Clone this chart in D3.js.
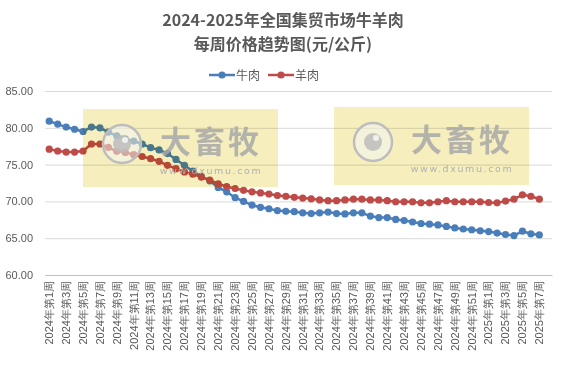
<!DOCTYPE html>
<html><head><meta charset="utf-8">
<script src="https://cdn.jsdelivr.net/npm/d3@7"></script>
<style>
html,body{margin:0;padding:0;background:#fff;}
svg{display:block;font-family:"Noto Sans CJK SC","Noto Sans",sans-serif;}
</style></head>
<body><svg id="c" width="566" height="367"></svg>
<script>
const titleLines = ["2024-2025年全国集贸市场牛羊肉", "每周价格趋势图(元/公斤)"];
const seriesNames = ["牛肉", "羊肉"];
const seriesColors = ["#4a7ebb", "#be4b48"];
const categories = [];
for (let w = 1; w <= 52; w++) categories.push("2024年第" + w + "周");
for (let w = 1; w <= 8; w++) categories.push("2025年第" + w + "周");
const beef = [80.9,80.5,80.1,79.8,79.5,80.1,80.0,79.4,78.9,78.5,78.2,77.8,77.3,77.0,76.5,75.7,74.9,74.1,73.4,72.8,
  71.9,71.3,70.5,70.0,69.5,69.2,69.0,68.75,68.65,68.6,68.45,68.35,68.45,68.55,68.35,68.3,68.45,68.45,68.0,67.8,
  67.8,67.55,67.4,67.2,67.0,66.9,66.8,66.6,66.4,66.25,66.15,66.0,65.9,65.7,65.5,65.35,65.95,65.6,65.45];
const mutton = [77.1,76.85,76.7,76.7,76.85,77.8,77.8,77.35,76.8,76.65,76.35,76.1,75.8,75.45,74.9,74.45,74.0,73.7,73.3,72.9,
  72.4,72.0,71.75,71.5,71.3,71.15,71.0,70.8,70.7,70.55,70.45,70.35,70.2,70.1,70.1,70.2,70.3,70.3,70.2,70.2,
  70.1,69.95,69.95,69.95,69.8,69.8,69.95,70.1,69.95,69.95,69.95,69.95,69.85,69.8,70.05,70.3,70.9,70.7,70.3];
const yTicks = [60, 65, 70, 75, 80, 85];
const watermarkText = "大畜牧";
const watermarkUrl = "www.dxumu.com";

const svg = d3.select("#c");
const textColor = "#595959";

const x = d3.scaleBand().domain(categories).range([45, 552]).paddingInner(0).paddingOuter(0);
const y = d3.scaleLinear().domain([60, 85]).range([275, 91]);
const cx = (i) => x(categories[i]) + x.bandwidth() / 2;

// title
svg.append("g").selectAll("text").data(titleLines).join("text")
  .attr("x", 283).attr("y", (d, i) => 26 + i * 24)
  .attr("text-anchor", "middle").attr("font-size", 16).attr("font-weight", "bold")
  .attr("fill", textColor).text(d => d);

// gridlines + y labels
const yAxis = d3.axisLeft(y).tickValues(yTicks).tickFormat(d3.format(".2f")).tickSize(-(552 - 45)).tickPadding(12);
const gy = svg.append("g").attr("transform", "translate(45,0)").call(yAxis);
gy.select(".domain").remove();
gy.selectAll(".tick line").attr("stroke", "#d9d9d9").attr("stroke-width", 1);
gy.selectAll(".tick text").attr("fill", textColor).attr("font-size", 11)
  .attr("font-family", "Liberation Sans, Arial, sans-serif");

// x axis
const xAxis = d3.axisBottom(x).tickValues(categories.filter((d, i) => i % 2 === 0)).tickSize(0).tickPadding(0);
const gx = svg.append("g").attr("transform", "translate(0,275)").call(xAxis);
gx.select(".domain").attr("stroke", "#bfbfbf");
gx.selectAll(".tick text")
  .attr("transform", "rotate(-90)")
  .attr("x", -6).attr("y", 0).attr("dy", "0.35em")
  .attr("text-anchor", "end")
  .attr("fill", textColor).attr("font-size", 11);

// lines
const series = [beef, mutton];
const line = d3.line().x((d, i) => cx(i)).y(d => y(d));
series.forEach((s, k) => {
  const g = svg.append("g");
  g.append("path").datum(s).attr("d", line).attr("fill", "none")
    .attr("stroke", seriesColors[k]).attr("stroke-width", 2.5).attr("stroke-linejoin", "round");
  g.selectAll("circle").data(s).join("circle")
    .attr("cx", (d, i) => cx(i)).attr("cy", d => y(d)).attr("r", 3.6)
    .attr("fill", seriesColors[k]);
});

// legend
const legend = svg.append("g");
const legX = [209, 268];
seriesNames.forEach((n, k) => {
  const lg = legend.append("g").attr("transform", `translate(${legX[k]},75)`);
  lg.append("line").attr("x1", 0).attr("x2", 26).attr("stroke", seriesColors[k]).attr("stroke-width", 2.5);
  lg.append("circle").attr("cx", 13).attr("r", 3.6).attr("fill", seriesColors[k]);
  lg.append("text").attr("x", 27).attr("y", 0).attr("dy", "0.38em").attr("font-size", 12)
    .attr("fill", textColor).text(n);
});

// watermarks
const wms = [[83, 109], [334, 107]];
wms.forEach(([wx, wy]) => {
  const g = svg.append("g").attr("transform", `translate(${wx},${wy})`);
  g.append("rect").attr("width", 195).attr("height", 78).attr("fill", "#f6efbd")
    .style("mix-blend-mode", "multiply");
  g.append("circle").attr("cx", 39).attr("cy", 35).attr("r", 19).attr("fill", "#f4f4f4").attr("fill-opacity", 0.55)
    .attr("stroke", "#bdbdbd").attr("stroke-width", 2.5);
  g.append("circle").attr("cx", 39).attr("cy", 35).attr("r", 9).attr("fill", "#bcbcbc").attr("fill-opacity", 0.85);
  g.append("circle").attr("cx", 42).attr("cy", 31).attr("r", 3).attr("fill", "#f0f0f0");
  g.append("text").attr("x", 128).attr("y", 44).attr("text-anchor", "middle")
    .attr("font-size", 31).attr("font-weight", "bold").attr("fill", "#a8a8a8").attr("fill-opacity", 0.85)
    .attr("letter-spacing", 3).text(watermarkText);
  g.append("text").attr("x", 128).attr("y", 65).attr("text-anchor", "middle")
    .attr("font-size", 9.5).attr("fill", "#b0b0b0").attr("letter-spacing", 1.6)
    .attr("font-family", "DejaVu Sans, sans-serif").text(watermarkUrl);
});
</script></body></html>
